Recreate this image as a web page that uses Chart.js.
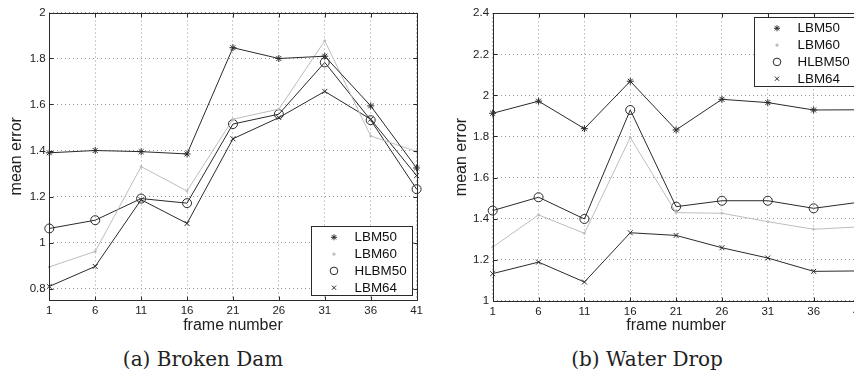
<!DOCTYPE html>
<html>
<head>
<meta charset="utf-8">
<script src="https://cdn.jsdelivr.net/npm/chart.js@4.4.1/dist/chart.umd.min.js"></script>
<style>
    html, body { margin: 0; padding: 0; background: #fff; overflow: hidden; width: 854px; height: 374px; }
    canvas { position: absolute; top: 0; }
    #damChart { left: 0; }
    #dropChart { left: 427px; }
    .caption { position: absolute; top: 347px; width: 300px; text-align: center; font-family: "DejaVu Serif", serif; font-size: 20px; line-height: 24px; color: #222; }
</style>
</head>
<body>
<canvas id="damChart" width="427" height="340"></canvas>
<canvas id="dropChart" width="445" height="340"></canvas>
<div class="caption" style="left:53px">(a) Broken Dam</div>
<div class="caption" style="left:497px">(b) Water Drop</div>

<script>
// frames on the x axis (shared)
const frames = [1, 6, 11, 16, 21, 26, 31, 36, 41];
const seriesNames = ['LBM50', 'LBM60', 'HLBM50', 'LBM64'];

// (a) Broken Dam
const damLBM50 = [1.39, 1.40, 1.395, 1.385, 1.847, 1.80, 1.81, 1.594, 1.324];
const damLBM60 = [0.894, 0.961, 1.33, 1.224, 1.536, 1.58, 1.877, 1.463, 1.396];
const damHLBM50 = [1.061, 1.097, 1.191, 1.171, 1.515, 1.558, 1.783, 1.532, 1.232];
const damLBM64 = [0.809, 0.896, 1.186, 1.083, 1.451, 1.543, 1.657, 1.536, 1.291];
const damTicks = [0.8, 1, 1.2, 1.4, 1.6, 1.8, 2];

// (b) Water Drop
const dropLBM50 = [1.913, 1.972, 1.838, 2.069, 1.832, 1.981, 1.965, 1.929, 1.93];
const dropLBM60 = [1.261, 1.418, 1.328, 1.795, 1.429, 1.426, 1.385, 1.348, 1.36];
const dropHLBM50 = [1.439, 1.504, 1.398, 1.929, 1.458, 1.487, 1.487, 1.45, 1.48];
const dropLBM64 = [1.132, 1.188, 1.091, 1.331, 1.318, 1.258, 1.208, 1.143, 1.145];
const dropTicks = [1, 1.2, 1.4, 1.6, 1.8, 2, 2.2, 2.4];

const DARK = '#2a2a2a';
const LIGHT = '#bdbdbd';
const FONT = '"Liberation Sans", Arial, sans-serif';

// how each series is drawn (line + marker)
const styles = [
    { color: DARK, pointStyle: 'star', radius: 3.5, fill: DARK },
    { color: LIGHT, pointStyle: 'circle', radius: 1, fill: LIGHT },
    { color: DARK, pointStyle: 'circle', radius: 4.5, fill: 'rgba(255,255,255,0)' },
    { color: DARK, pointStyle: 'crossRot', radius: 3.5, fill: DARK }
];

// box frame with small inward ticks, matlab style
const framePlugin = {
    id: 'frame',
    afterDatasetsDraw(chart) {
        const { ctx, chartArea: a, scales } = chart;
        ctx.save();
        ctx.strokeStyle = DARK;
        ctx.lineWidth = 1;
        const L = Math.round(a.left) + 0.5, R = Math.round(a.right) + 0.5;
        const T = Math.round(a.top) + 0.5, B = Math.round(a.bottom) + 0.5;
        ctx.strokeRect(L, T, R - L, B - T);
        ctx.beginPath();
        scales.x.ticks.forEach((t, i) => {
            const px = Math.round(scales.x.getPixelForTick(i)) + 0.5;
            ctx.moveTo(px, T); ctx.lineTo(px, T + 4);
            ctx.moveTo(px, B); ctx.lineTo(px, B - 4);
        });
        scales.y.ticks.forEach(t => {
            const py = Math.round(scales.y.getPixelForValue(t.value)) + 0.5;
            ctx.moveTo(L, py); ctx.lineTo(L + 4, py);
            ctx.moveTo(R, py); ctx.lineTo(R - 4, py);
        });
        ctx.stroke();
        ctx.restore();
    }
};

// legend drawn inside the plot in a white box
const boxLegend = {
    id: 'boxLegend',
    afterDraw(chart, args, opts) {
        const { ctx, chartArea: a } = chart;
        const w = 101, h = 69;
        const x = Math.round(a.right - opts.gapRight - w) + 0.5;
        const y = Math.round(opts.corner === 'bottom' ? a.bottom - opts.gapY - h : a.top + opts.gapY) + 0.5;
        ctx.save();
        ctx.fillStyle = '#fff';
        ctx.fillRect(x, y, w, h);
        ctx.strokeStyle = DARK;
        ctx.lineWidth = 1;
        ctx.strokeRect(x, y, w, h);
        ctx.font = '13.4px ' + FONT;
        ctx.textBaseline = 'middle';
        chart.data.datasets.forEach((ds, i) => {
            const st = styles[i];
            const cy = y + 10.8 + i * 16.8;
            ctx.strokeStyle = st.color;
            ctx.fillStyle = st.fill;
            Chart.helpers.drawPoint(ctx, {
                pointStyle: st.pointStyle,
                radius: st.pointStyle === 'circle' && st.radius > 2 ? 3.8 : (st.radius > 2 ? 3 : 1.2),
                borderWidth: 1,
                rotation: 0
            }, x + 22.5, cy);
            ctx.fillStyle = '#111';
            ctx.fillText(ds.label, x + 43, cy + 0.5);
        });
        ctx.restore();
    }
};

function makeChart(id, values, yMin, yMax, yTicks, geom) {
    const datasets = values.map((vals, i) => ({
        label: seriesNames[i],
        data: vals,
        borderColor: styles[i].color,
        borderWidth: 1,
        tension: 0,
        pointStyle: styles[i].pointStyle,
        pointRadius: styles[i].radius,
        pointHoverRadius: styles[i].radius,
        pointBorderColor: styles[i].color,
        pointBackgroundColor: styles[i].fill,
        pointBorderWidth: 1,
        clip: false
    }));

    return new Chart(document.getElementById(id), {
        type: 'line',
        data: { labels: frames, datasets: datasets },
        options: {
            responsive: false,
            animation: false,
            events: [],
            layout: { padding: { top: geom.top, right: geom.right, left: 0, bottom: 0 } },
            plugins: {
                legend: { display: false },
                tooltip: { enabled: false },
                boxLegend: geom.legend
            },
            scales: {
                x: {
                    type: 'category',
                    offset: false,
                    afterFit: s => { s.height = geom.xHeight; },
                    grid: { color: '#9a9a9a', lineWidth: 1, drawTicks: false },
                    border: { display: false, dash: [1, 3] },
                    ticks: { color: '#222', font: { family: FONT, size: 11.5 }, padding: 4, maxRotation: 0, autoSkip: false },
                    title: { display: true, text: 'frame number', color: '#222', font: { family: FONT, size: 16 }, padding: { top: 0, bottom: 4.7 } }
                },
                y: {
                    min: yMin,
                    max: yMax,
                    afterFit: s => { s.width = geom.yWidth; },
                    afterBuildTicks: s => { s.ticks = yTicks.map(v => ({ value: v })); },
                    grid: { color: '#9a9a9a', lineWidth: 1, drawTicks: false },
                    border: { display: false, dash: [1, 3] },
                    ticks: { color: '#222', font: { family: FONT, size: 11.5 }, padding: 3.6, callback: v => String(+v.toFixed(2)) },
                    title: { display: true, text: 'mean error', color: '#222', font: { family: FONT, size: 16 }, padding: { top: geom.titlePad, bottom: 0 } }
                }
            }
        },
        plugins: [framePlugin, boxLegend]
    });
}

makeChart('damChart', [damLBM50, damLBM60, damHLBM50, damLBM64], 0.75, 2, damTicks, {
    top: 12.5, right: 10.3, xHeight: 40, yWidth: 49.3, titlePad: 6.9,
    legend: { corner: 'bottom', gapRight: 5, gapY: 5 }
});

makeChart('dropChart', [dropLBM50, dropLBM60, dropHLBM50, dropLBM64], 1, 2.4, dropTicks, {
    top: 13.3, right: 12.5, xHeight: 39.3, yWidth: 65.7, titlePad: 25.4,
    legend: { corner: 'top', gapRight: 5, gapY: 4 }
});
</script>
</body>
</html>
